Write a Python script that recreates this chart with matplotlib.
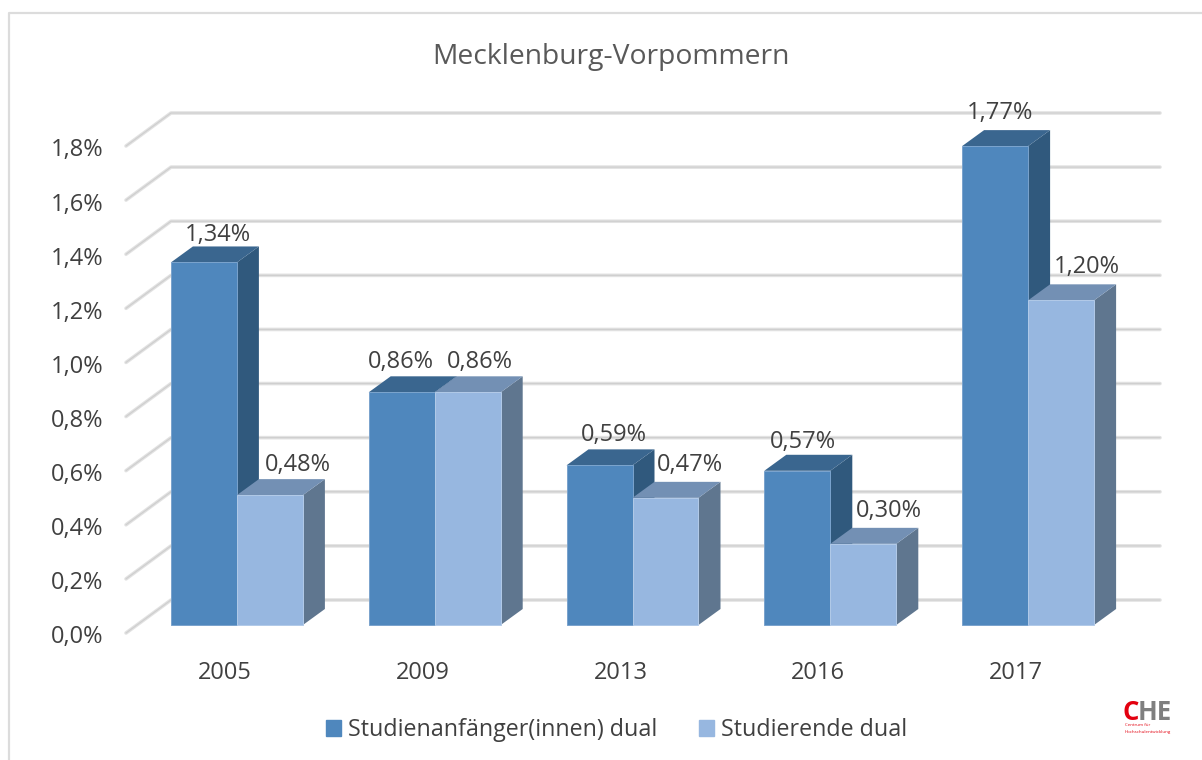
import matplotlib
matplotlib.use('Agg')
import matplotlib.pyplot as plt
from matplotlib.lines import Line2D
from matplotlib.patches import Patch, Polygon
from matplotlib.transforms import ScaledTranslation

plt.rcParams['font.family'] = ['Open Sans', 'DejaVu Sans']

years = ['2005', '2009', '2013', '2016', '2017']
anfaenger = [1.34, 0.86, 0.59, 0.57, 1.77]
studierende = [0.48, 0.86, 0.47, 0.30, 1.20]
y_ticks = [0.0, 0.2, 0.4, 0.6, 0.8, 1.0, 1.2, 1.4, 1.6, 1.8]
y_labels = ['0,0%', '0,2%', '0,4%', '0,6%', '0,8%', '1,0%', '1,2%', '1,4%', '1,6%', '1,8%']
series_names = ['Studienanfänger(innen) dual', 'Studierende dual']

W, H = 1202, 760
# x range of one category is 197.8 px, y range 0-1.8 is 487 px
X0, X1 = 138.0, 1127.0
Y0, Y1 = 625.0, 138.0
PX = (X1 - X0) / 5
PY = (Y0 - Y1) / 1.8
BAR_W = 66 / PX
DX, DY = 22 / PX, 16 / PY  # depth of a bar

fig = plt.figure(figsize=(12.02, 7.6), dpi=100)
ax = fig.add_axes([X0 / W, 1 - Y0 / H, (X1 - X0) / W, (Y0 - Y1) / H])
ax.set_xlim(-0.5, 4.5)
ax.set_ylim(0, 1.8)
ax.patch.set_visible(False)
for s in ax.spines.values():
    s.set_visible(False)

# chart frame, only left and top are in the picture
fig.add_artist(Line2D([9 / W, 9 / W, 1], [0, 1 - 13 / H, 1 - 13 / H], color='#dcdcdc', lw=1.6,
                      transform=fig.transFigure))

# grid on the back wall and the left wall
wall_x = (171 - X0) / PX - 0.5
back_x = (1160 - X0) / PX - 0.5
left_x = (126 - X0) / PX - 0.5
for t in y_ticks:
    y_back = t + 25 / PY
    y_left = t - 8 / PY
    ax.plot([left_x, wall_x, back_x], [y_left, y_back, y_back], color='#e2e2e2', lw=2.6,
            solid_capstyle='round', solid_joinstyle='round', clip_on=False, zorder=1)
    ax.plot([left_x, wall_x, back_x], [y_left, y_back, y_back], color='#cfcfcf', lw=0.9,
            solid_capstyle='round', solid_joinstyle='round', clip_on=False, zorder=1.1)


def bar_3d(x, h, front, edge, top, side, z):
    l, r = x - BAR_W, x
    ax.add_patch(Polygon([(r, 0), (r + DX, DY), (r + DX, h + DY), (r, h)], fc=side, ec='none', zorder=z,
                         clip_on=False))
    ax.add_patch(Polygon([(l, h), (l + DX, h + DY), (r + DX, h + DY), (r, h)], fc=top, ec='none', zorder=z,
                         clip_on=False))
    ax.bar(x - BAR_W / 2, h, BAR_W, color=front, edgecolor=edge, linewidth=0.7, zorder=z + 0.1, clip_on=False)


for i in range(len(years)):
    # first bar sits behind the second one
    bar_3d(i, anfaenger[i], '#4f87bd', '#7aa3cd', '#3a668f', '#30597d', 3)
    bar_3d(i + BAR_W, studierende[i], '#97b7e0', '#b2cae8', '#7390b4', '#5f768f', 4)

ax.set_xticks(range(len(years)), years)
ax.set_yticks(y_ticks, y_labels)
ax.tick_params(length=0, labelsize=17, labelcolor='#404040')
ax.tick_params(axis='x', pad=26)
ax.tick_params(axis='y', pad=25)
# tick labels follow the front of the 3d floor, not the bars
for lab in ax.get_xticklabels():
    lab.set_transform(lab.get_transform() + ScaledTranslation(-12 / 100, 0, fig.dpi_scale_trans))
for lab in ax.get_yticklabels():
    lab.set_transform(lab.get_transform() + ScaledTranslation(0, -9.5 / 100, fig.dpi_scale_trans))


def fmt(v):
    return f'{v:.2f}'.replace('.', ',') + '%'


# label offsets in px, read per bar because they do not follow one rule
off_a = [(14, 27), (-1, 30), (14, 30), (6, 29), (5, 33)]
off_b = [(28, 30), (12, 30), (24, 33), (26, 33), (26, 33)]
for i in range(len(years)):
    ax.annotate(fmt(anfaenger[i]), (i - BAR_W / 2, anfaenger[i]), xytext=off_a[i], textcoords='offset pixels',
                ha='center', va='center', fontsize=17, color='#404040', zorder=6, annotation_clip=False)
    ax.annotate(fmt(studierende[i]), (i + BAR_W / 2, studierende[i]), xytext=off_b[i], textcoords='offset pixels',
                ha='center', va='center', fontsize=17, color='#404040', zorder=6, annotation_clip=False)

fig.text(611 / W, 1 - 57 / H, 'Mecklenburg-Vorpommern', ha='center', va='center', fontsize=20.3, color='#595959')

handles = [Patch(color='#4f87bd', label=series_names[0]), Patch(color='#97b7e0', label=series_names[1])]
fig.legend(handles=handles, loc='center', bbox_to_anchor=(616.5 / W, 1 - 730 / H), ncol=2, frameon=False,
           fontsize=16.75, labelcolor='#404040', handlelength=0.645, handleheight=0.645, handletextpad=0.32,
           columnspacing=1.76)

# CHE logo
logo_font = ['Liberation Sans Narrow', 'Open Sans']
fig.text(1123 / W, 1 - 720 / H, 'C', color='#e3000f', fontsize=18.5, fontweight='bold', family=logo_font,
         ha='left', va='baseline')
fig.text(1137.5 / W, 1 - 720 / H, 'HE', color='#7f7f7f', fontsize=18.5, fontweight='bold', family=logo_font,
         ha='left', va='baseline')
fig.text(1125 / W, 1 - 725.5 / H, 'Centrum für', color='#e3000f', fontsize=3.2, ha='left', va='center')
fig.text(1125 / W, 1 - 732.5 / H, 'Hochschulentwicklung', color='#e3000f', fontsize=3.2, ha='left', va='center')

fig.savefig('out.png', dpi=100)
